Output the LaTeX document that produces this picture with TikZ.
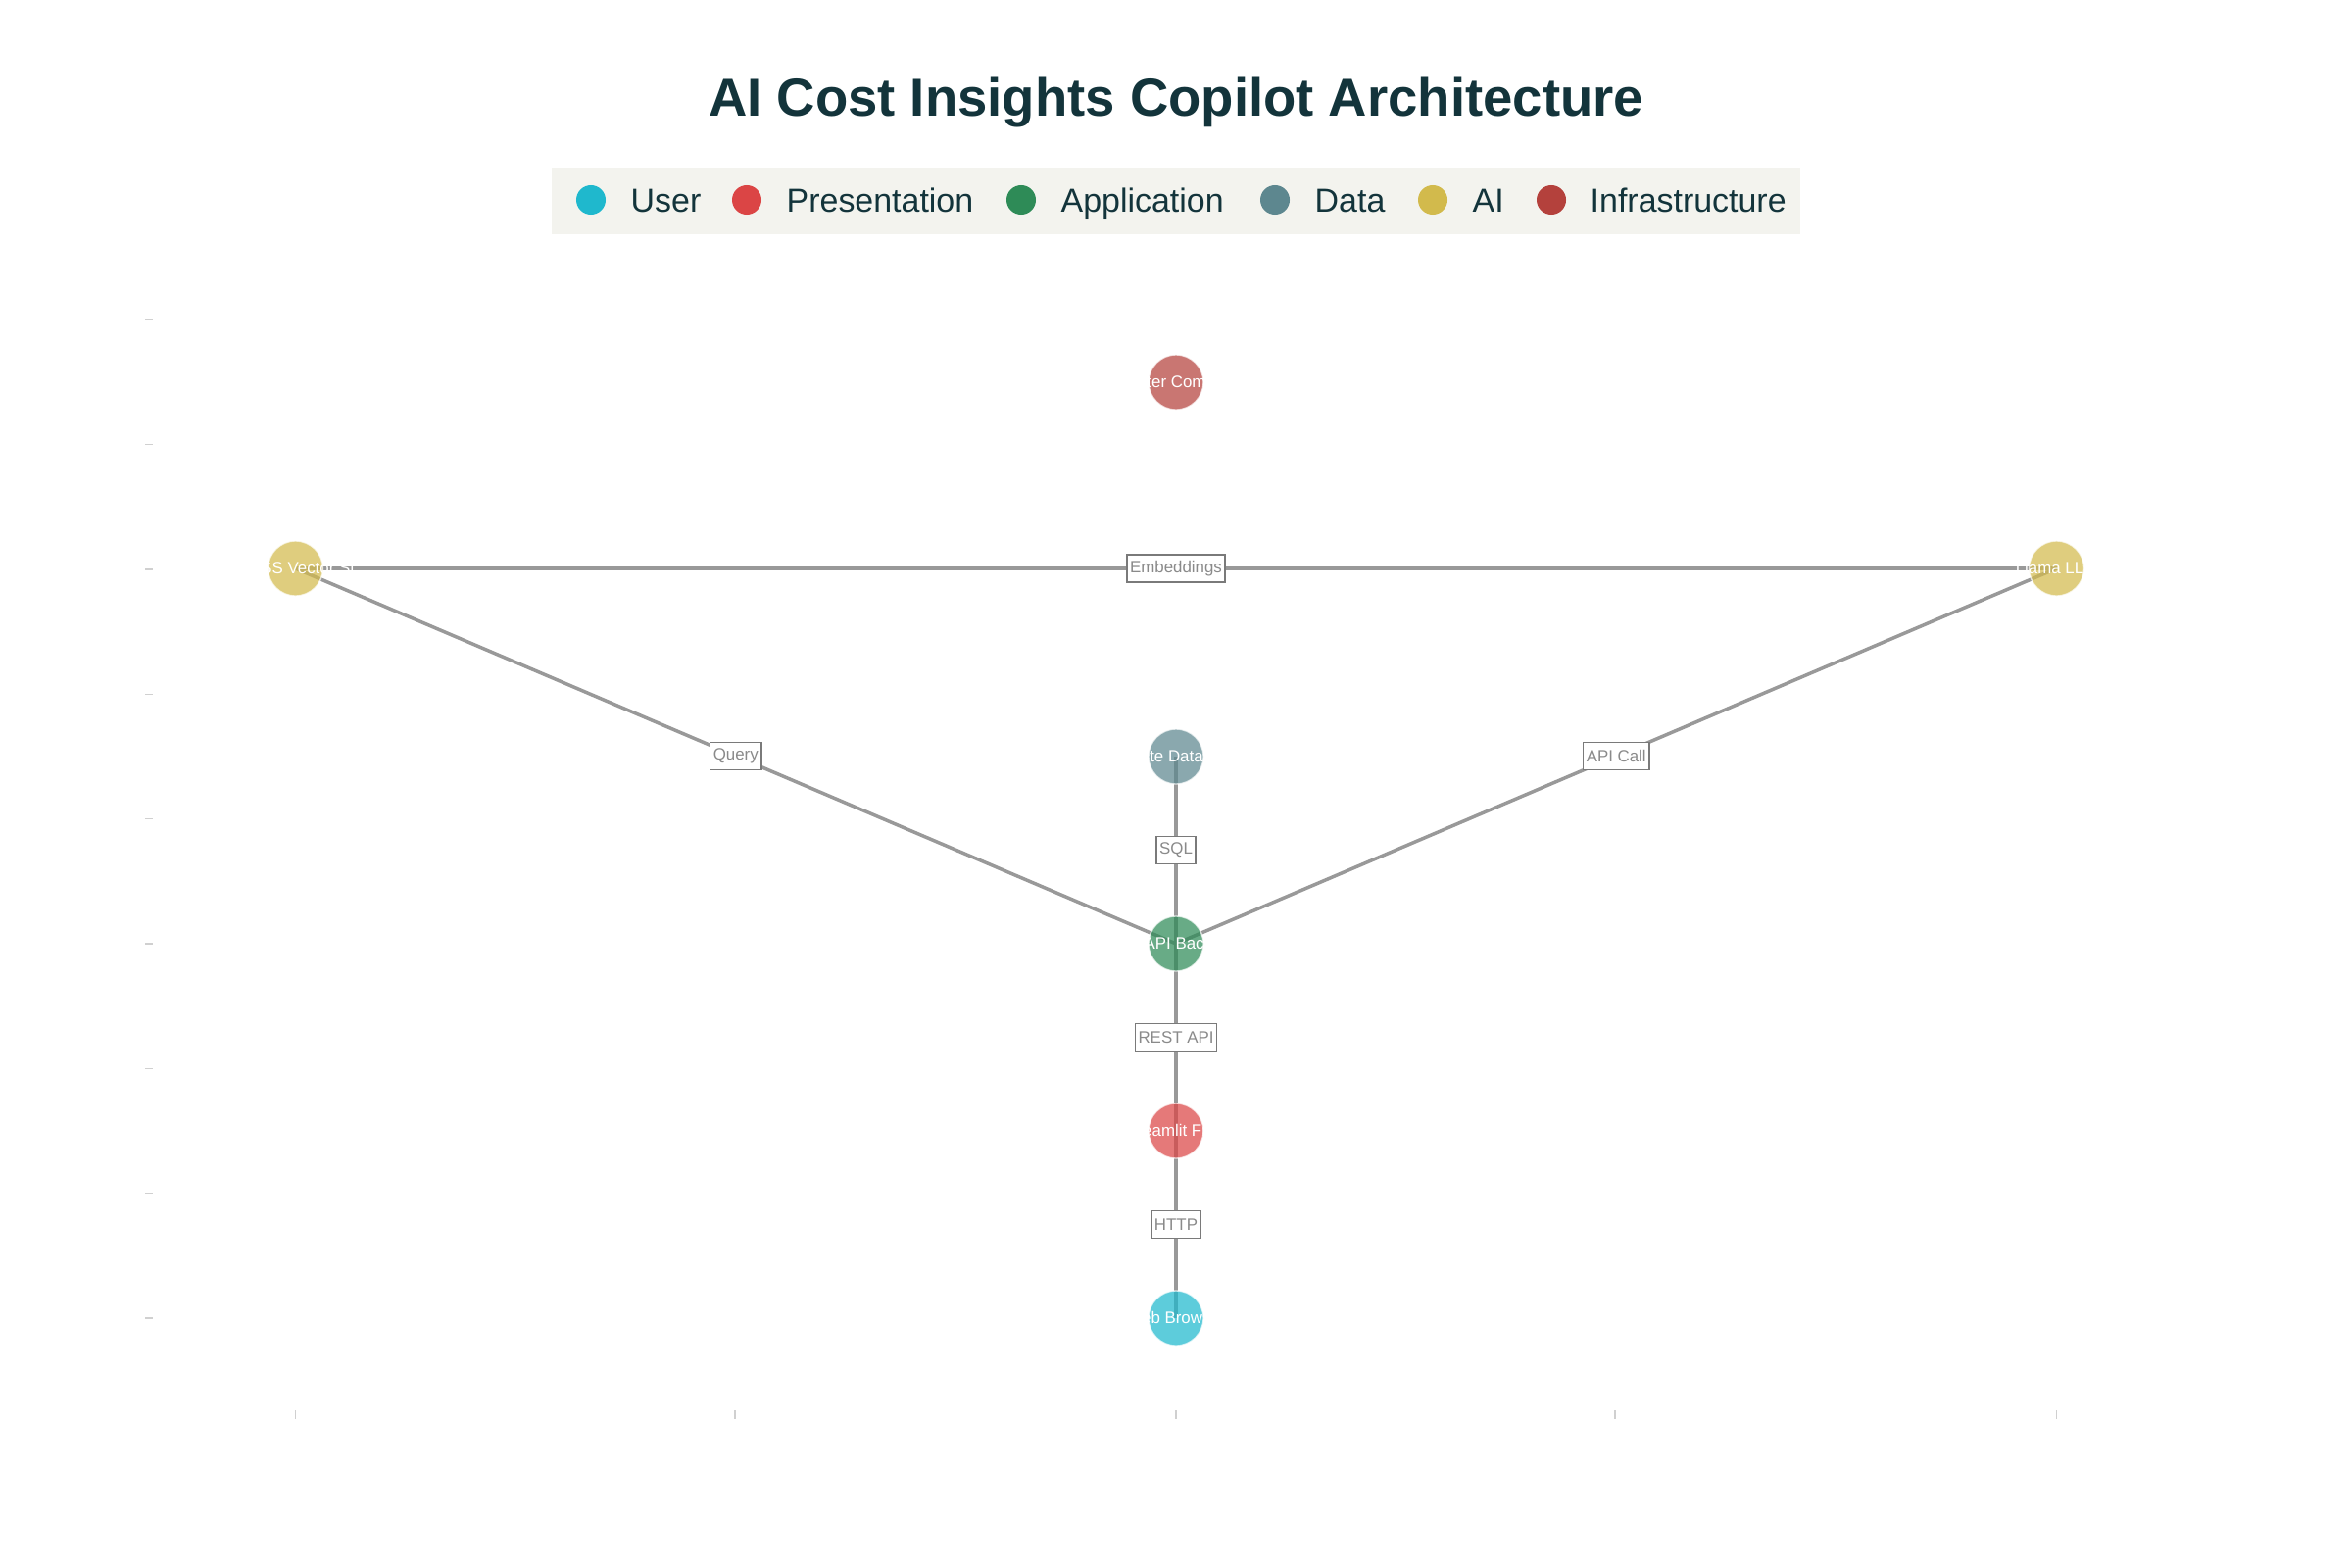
\documentclass[tikz,border=0pt]{standalone}
\usepackage{fontspec}
\setmainfont{Liberation Sans}
\definecolor{ink}{HTML}{13343B}
\definecolor{cUser}{HTML}{1FB8CD}
\definecolor{cPres}{HTML}{DB4545}
\definecolor{cApp}{HTML}{2E8B57}
\definecolor{cData}{HTML}{5D878F}
\definecolor{cAI}{HTML}{D2BA4C}
\definecolor{cInfra}{HTML}{B4413C}
\definecolor{legbg}{HTML}{F3F3EE}
\definecolor{edgec}{HTML}{999999}
\definecolor{lblc}{HTML}{7A7A7A}
\definecolor{lbltxt}{HTML}{8A8A8A}
\definecolor{tickc}{HTML}{D0D0D0}
\begin{document}
\begin{tikzpicture}[x=0.01cm,y=-0.01cm,
  dot/.style={circle,inner sep=0pt,minimum size=0.56cm,fill=#1,draw=white,line width=0.4pt,opacity=0.72},
  dottxt/.style={anchor=base,text=white,font=\fontsize{4.8}{5.5}\selectfont,inner sep=0pt,yshift=-1.7pt},
  edge/.style={draw=edgec,line width=1pt},
  lbl/.style={draw=lblc,line width=0.45pt,fill=white,text=lbltxt,font=\fontsize{4.8}{5.5}\selectfont,inner xsep=0.9pt,inner ysep=0pt,minimum height=0.28cm},
  legdot/.style={circle,inner sep=0pt,minimum size=0.3cm,fill=#1},
  legtxt/.style={anchor=base west,text=ink,font=\fontsize{9.65}{11}\selectfont,inner sep=0pt},
  tick/.style={draw=tickc,line width=0.3pt}]
\useasboundingbox (0,0) rectangle (2400,1600);
% title
\node[anchor=base,text=ink,font=\fontsize{15.5}{18}\bfseries\selectfont,inner sep=0pt] (title) at (1200,119) {AI Cost Insights Copilot Architecture};
% legend
\node[fill=legbg,minimum width=12.74cm,minimum height=0.68cm,inner sep=0pt] (legend) at (1200,205) {};
\node[legdot=cUser] (l1) at (603,204) {};
\node[legtxt] (t1) at (643,216) {User};
\node[legdot=cPres] (l2) at (762,204) {};
\node[legtxt] (t2) at (802,216) {Presentation};
\node[legdot=cApp] (l3) at (1042,204) {};
\node[legtxt] (t3) at (1082,216) {Application};
\node[legdot=cData] (l4) at (1301,204) {};
\node[legtxt] (t4) at (1341,216) {Data};
\node[legdot=cAI] (l5) at (1462,204) {};
\node[legtxt] (t5) at (1502,216) {AI};
\node[legdot=cInfra] (l6) at (1583,204) {};
\node[legtxt] (t6) at (1622,216) {Infrastructure};
% axis ticks
\foreach \yy in {326.5,453.8,581,708.5,835.8,963,1090.4,1217.7,1345}
  \draw[tick] (148,\yy) -- (156,\yy);
\foreach \xx in {301.5,750,1200,1648,2098.5}
  \draw[tick] (\xx,1439) -- (\xx,1448);
% node positions
\coordinate (pInfra) at (1200,390);
\coordinate (pFaiss) at (301.5,580);
\coordinate (pLlama) at (2098.5,580);
\coordinate (pData) at (1200,772);
\coordinate (pApi) at (1200,963);
\coordinate (pSt) at (1200,1154);
\coordinate (pWeb) at (1200,1345);
% edges
\path[edge] (pFaiss) -- (pLlama);
\path[edge] (pFaiss) -- (pApi);
\path[edge] (pLlama) -- (pApi);
\path[edge] (pData) -- (pApi);
\path[edge] (pApi) -- (pSt);
\path[edge] (pSt) -- (pWeb);
% nodes
\node[dot=cInfra] (infra) at (pInfra) {};
\node[dot=cAI] (faiss) at (pFaiss) {};
\node[dot=cAI] (llama) at (pLlama) {};
\node[dot=cData] (data) at (pData) {};
\node[dot=cApp] (api) at (pApi) {};
\node[dot=cPres] (st) at (pSt) {};
\node[dot=cUser] (web) at (pWeb) {};
% node texts
\node[dottxt] (infraT) at (infra.center) {Cluster Compute};
\node[dottxt] (faissT) at (faiss.center) {FAISS Vector St};
\node[dottxt] (llamaT) at (llama.center) {Llama LLM};
\node[dottxt] (dataT) at (data.center) {SQLite Database};
\node[dottxt] (apiT) at (api.center) {FastAPI Backend};
\node[dottxt] (stT) at (st.center) {Streamlit Front};
\node[dottxt] (webT) at (web.center) {Web Browser};
% edge labels
\path (faiss.center) -- node[lbl] (e1) {Embeddings} (llama.center);
\path (faiss.center) -- node[lbl] (e2) {Query} (api.center);
\path (llama.center) -- node[lbl] (e3) {API Call} (api.center);
\path (data.center) -- node[lbl] (e4) {SQL} (api.center);
\path (api.center) -- node[lbl] (e5) {REST API} (st.center);
\path (st.center) -- node[lbl] (e6) {HTTP} (web.center);
\end{tikzpicture}
\end{document}
